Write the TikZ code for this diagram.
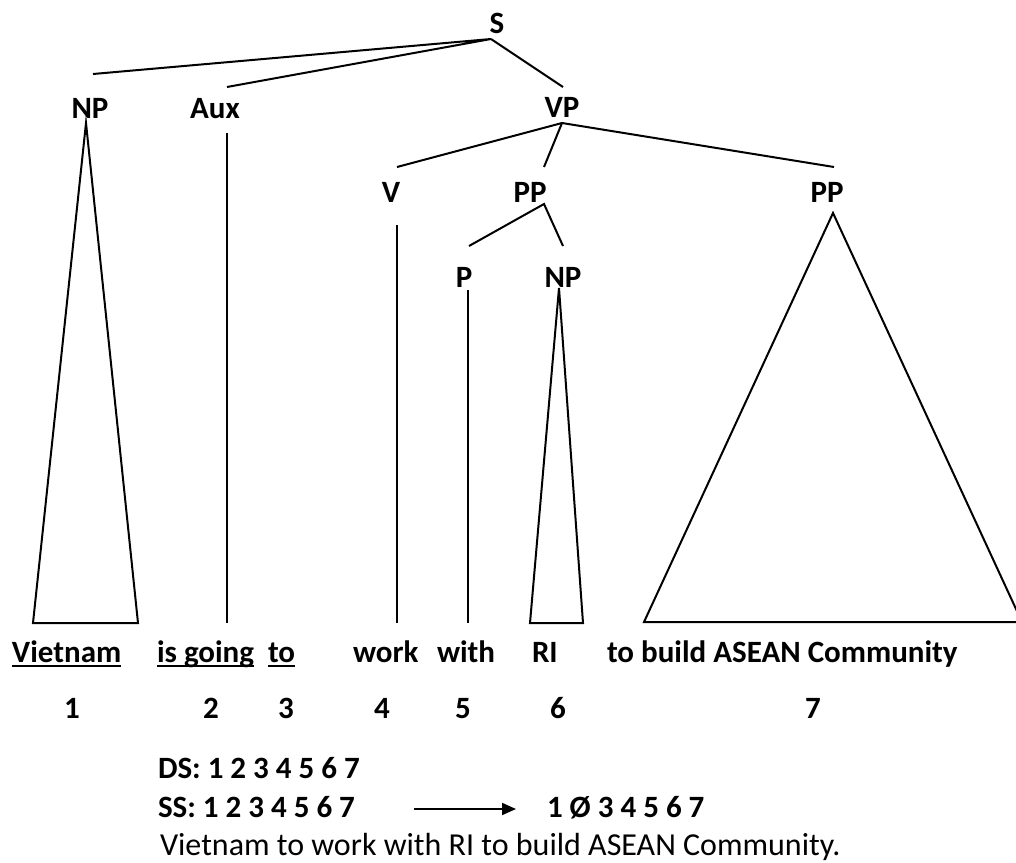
\documentclass[tikz,border=0pt]{standalone}
\usepackage{fontspec}
\setmainfont{Carlito}
\usetikzlibrary{arrows.meta}
\begin{document}
\begin{tikzpicture}[x=1pt,y=-1pt,
  every node/.style={inner sep=0pt,outer sep=0pt,font=\fontsize{31}{37}\selectfont\bfseries},
  cat/.style={anchor=base},
  word/.style={anchor=base west},
  num/.style={anchor=base},
  edge/.style={line width=2pt,line join=miter},
  uline/.style={line width=2pt},
  plain/.style={font=\fontsize{32}{38}\selectfont}]
\useasboundingbox (0,0) rectangle (1016,862);
\clip (0,0) rectangle (1016,862);

% category labels
\node[cat] (S)   at (497,33)  {S};
\node[cat] (NPa) at (90,118)  {NP};
\node[cat] (Aux) at (215,118) {Aux};
\node[cat] (VP)  at (562,117) {VP};
\node[cat] (V)   at (391,202) {V};
\node[cat] (PPa) at (530,202) {PP};
\node[cat] (PPb) at (827,202) {PP};
\node[cat] (P)   at (464,287) {P};
\node[cat] (NPb) at (563,287) {NP};

% attachment points of the branches
\coordinate (S-d)   at (491,39);
\coordinate (NPa-u) at (93,74);
\coordinate (Aux-u) at (227,87);
\coordinate (VP-u)  at (563,87);
\coordinate (VP-d)  at (562,123);
\coordinate (V-u)   at (397,167);
\coordinate (PPa-u) at (544,167);
\coordinate (PPb-u) at (834,167);
\coordinate (PPa-d) at (544,204);
\coordinate (P-u)   at (469,246);
\coordinate (NPb-u) at (563,246);

% branches
\draw[edge] (NPa-u) -- (S-d) -- (Aux-u);
\draw[edge] (S-d) -- (VP-u);
\draw[edge] (V-u) -- (VP-d) -- (PPb-u);
\draw[edge] (VP-d) -- (PPa-u);
\draw[edge] (P-u) -- (PPa-d) -- (NPb-u);

% terminal lines and triangles
\coordinate (NPa-t) at (86,123);
\coordinate (NPa-l) at (33,623);
\coordinate (NPa-r) at (138,623);
\draw[edge] (NPa-t) -- (NPa-r) -- (NPa-l) -- cycle;

\coordinate (Aux-t) at (227,133);
\coordinate (Aux-b) at (227,623);
\draw[edge] (Aux-t) -- (Aux-b);

\coordinate (V-t) at (397,225);
\coordinate (V-b) at (397,623);
\draw[edge] (V-t) -- (V-b);

\coordinate (P-t) at (468,290);
\coordinate (P-b) at (468,623);
\draw[edge] (P-t) -- (P-b);

\coordinate (NPb-t) at (559,288);
\coordinate (NPb-l) at (530,623);
\coordinate (NPb-r) at (583,623);
\draw[edge] (NPb-t) -- (NPb-r) -- (NPb-l) -- cycle;

\coordinate (PPb-t) at (833,213);
\coordinate (PPb-l) at (644,622);
\coordinate (PPb-r) at (1022,622);
\draw[edge] (PPb-t) -- (PPb-r) -- (PPb-l) -- cycle;

% the sentence
\node[word] (w1) at (12,662)  {Vietnam};
\node[word] (w2) at (157,662) {is going};
\node[word] (w3) at (268,662) {to};
\node[word] (w4) at (353,662) {work};
\node[word] (w5) at (437,662) {with};
\node[word] (w6) at (532,662) {RI};
\node[word] (w7) at (607,662) {to build ASEAN Community};

\foreach \w in {w1,w2,w3}
  \draw[uline] ([yshift=-4pt]\w.base west) -- ([yshift=-4pt]\w.base east);

% constituent numbers
\node[num] (n1) at (72,718)  {1};
\node[num] (n2) at (211,718) {2};
\node[num] (n3) at (286,718) {3};
\node[num] (n4) at (382,718) {4};
\node[num] (n5) at (463,718) {5};
\node[num] (n6) at (558,718) {6};
\node[num] (n7) at (813,718) {7};

% structures
\node[word] (ds) at (158,778) {DS: 1 2 3 4 5 6 7};
\node[word] (ss) at (158,817) {SS: 1 2 3 4 5 6 7};
\node[word] (res) at (547,817) {1 Ø 3 4 5 6 7};
\coordinate (arr-s) at (414,809);
\coordinate (arr-e) at (516,809);
\draw[line width=2pt,-{Triangle[length=14pt,width=12pt]}] (arr-s) -- (arr-e);
\node[word,plain] (gloss) at (160,855) {Vietnam to work with RI to build ASEAN Community.};
\end{tikzpicture}
\end{document}
